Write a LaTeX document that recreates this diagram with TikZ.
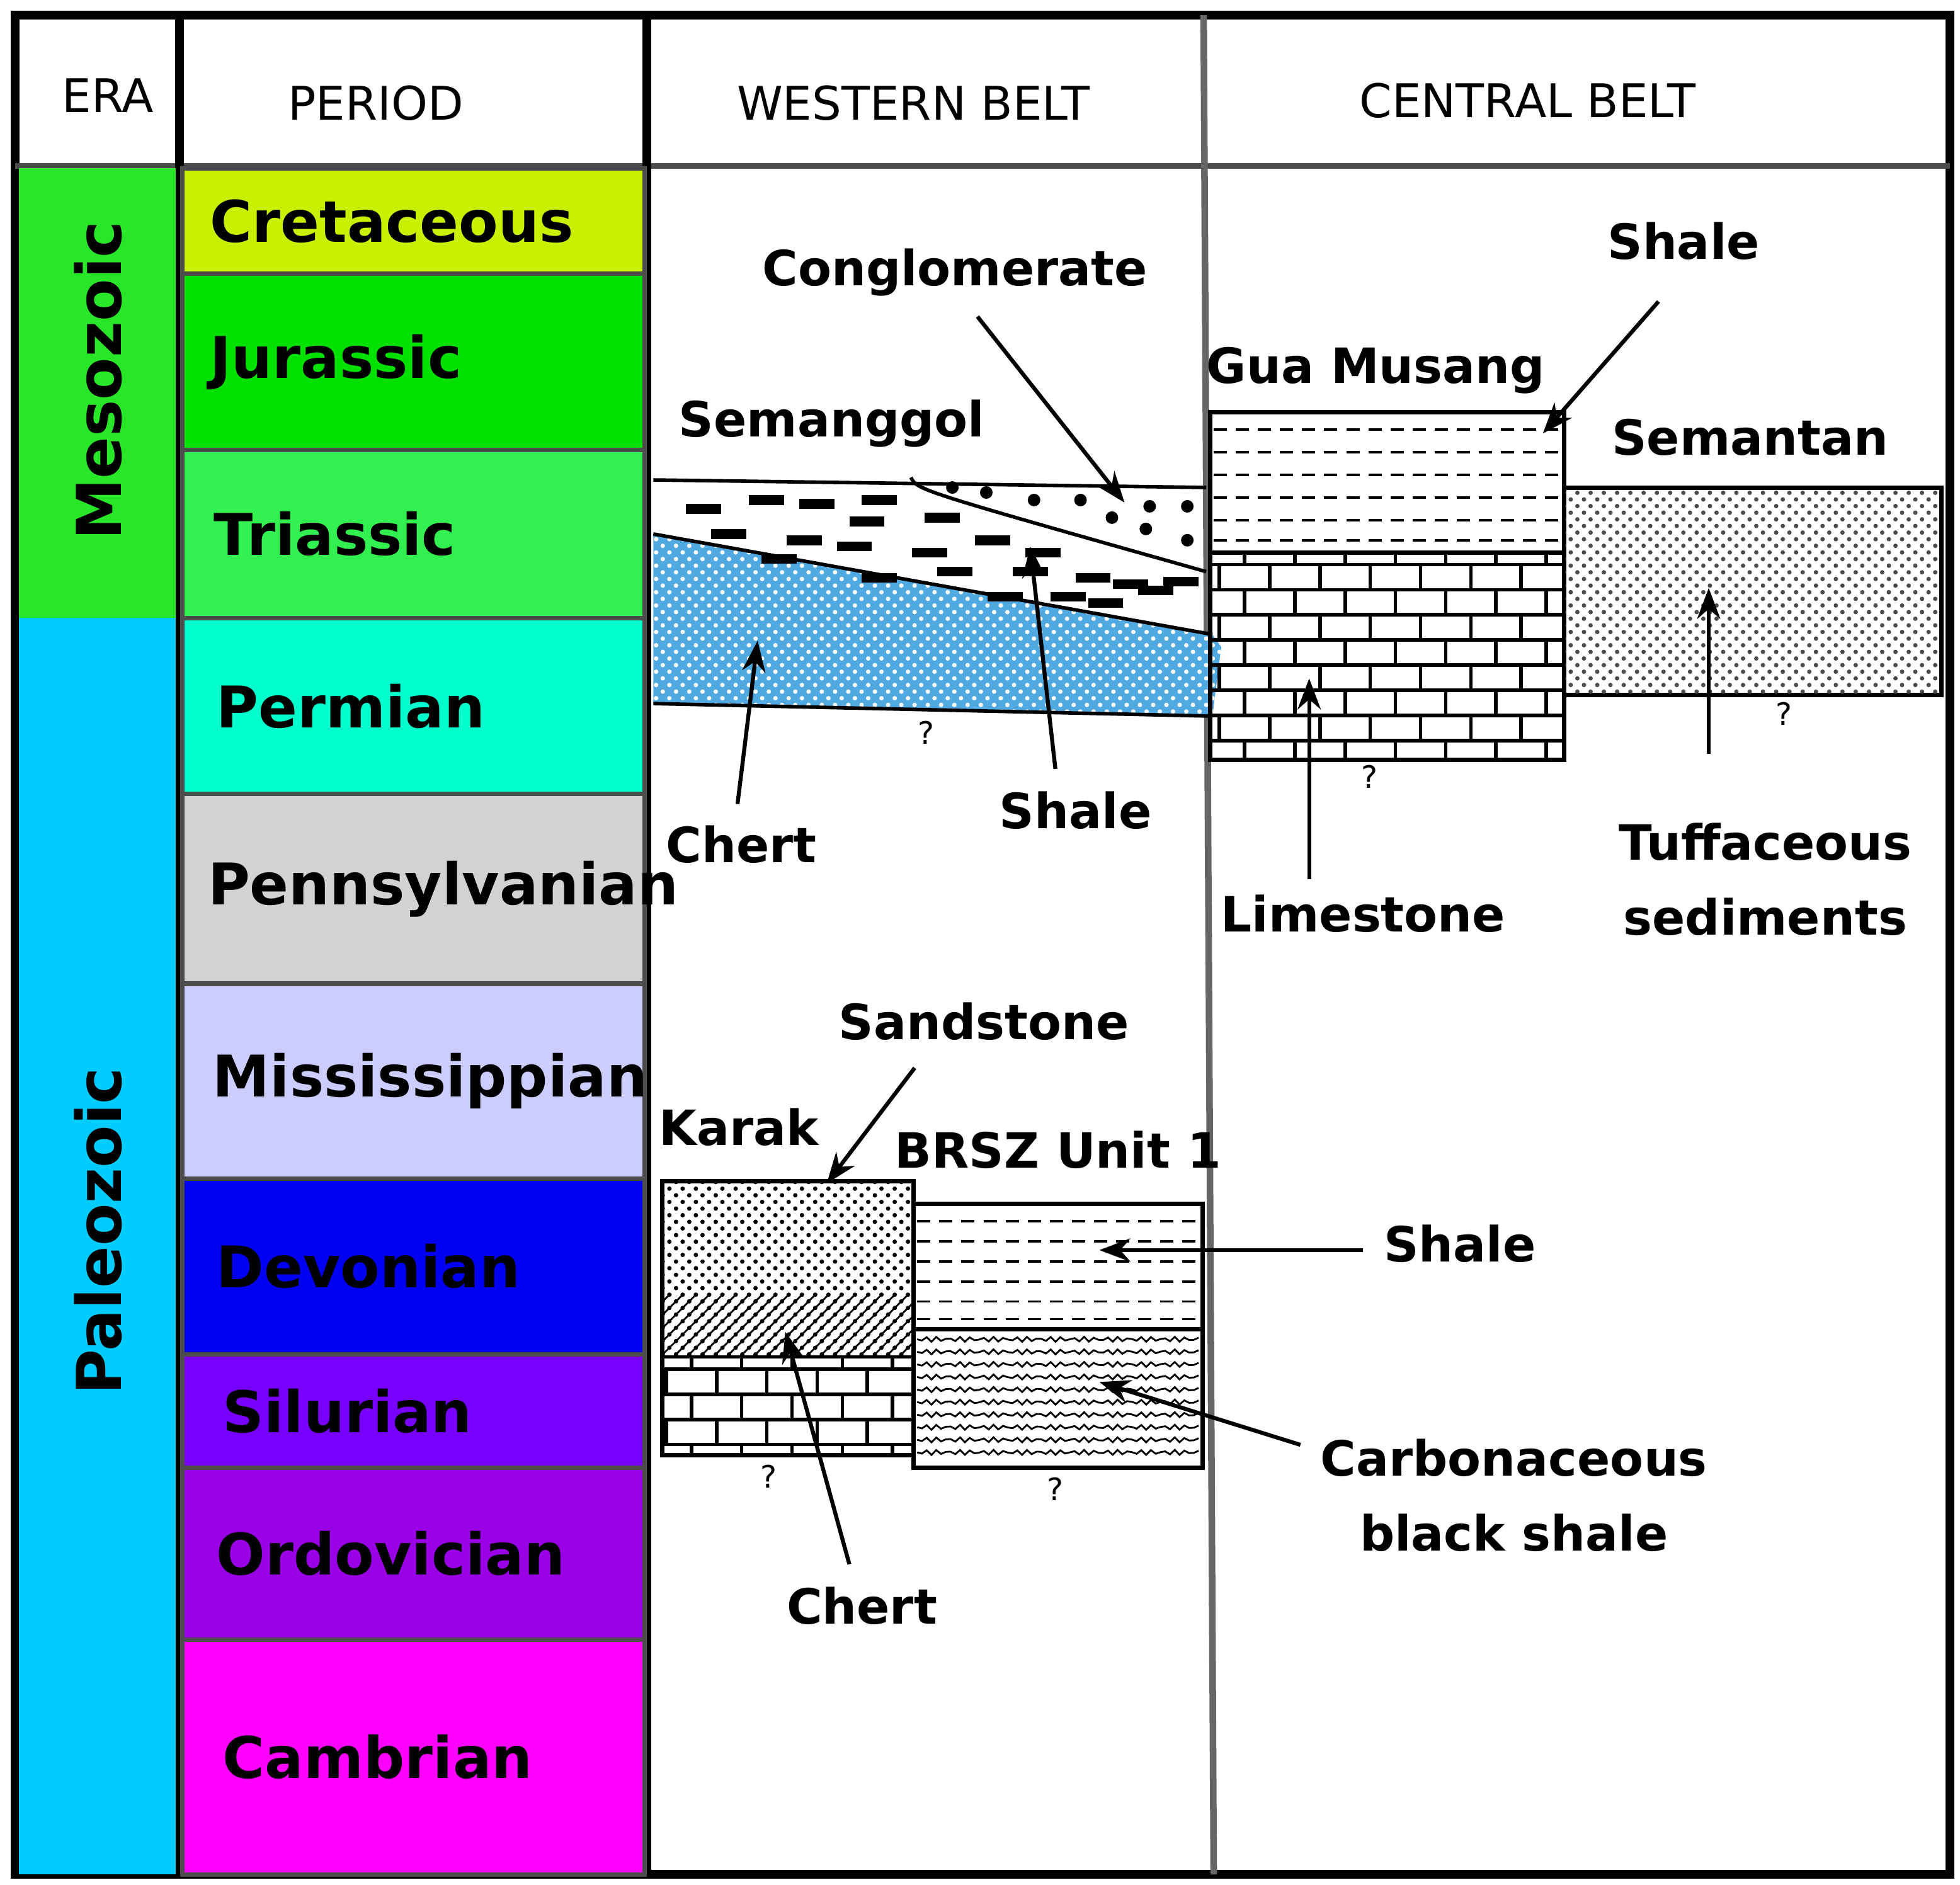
\documentclass[tikz,border=0pt]{standalone}
\usepackage{fontspec}
\setmainfont{DejaVu Sans}
\usetikzlibrary{patterns,arrows.meta}
\begin{document}
\begin{tikzpicture}[x=0.01cm,y=-0.01cm,
  cell/.style={draw=black!70,line width=1.2pt},
  per/.style={anchor=west,font=\bfseries\fontsize{13}{15}\selectfont},
  lab/.style={font=\bfseries\fontsize{11}{13}\selectfont},
  hdr/.style={font=\fontsize{10.5}{12}\selectfont},
  arr/.style={-{Stealth[length=7pt]},line width=0.9pt},
  q/.style={font=\fontsize{7}{8}\selectfont}]
\useasboundingbox (0,0) rectangle (1560,1500);
% header
\draw[line width=2pt] (12,12) rectangle (1552,1492);
\draw[cell] (12,132) -- (1552,132);
\foreach \x in {143,515} \draw[line width=2pt] (\x,12)--(\x,1492);
\draw[line width=1.5pt,black!60] (958,12)--(966,1492);
\node[hdr] (hera) at (86,76) {ERA};
\node[hdr] (hper) at (299,82) {PERIOD};
\node[hdr] (hwb) at (727,82) {WESTERN BELT};
\node[hdr] (hcb) at (1216,80) {CENTRAL BELT};
% eras
\fill[fill={rgb,255:red,40;green,230;blue,40}] (15,134) rectangle (140,492);
\fill[fill={rgb,255:red,0;green,204;blue,255}] (15,492) rectangle (140,1492);
\node[rotate=90,font=\bfseries\fontsize{14}{16}\selectfont] (meso) at (78,303) {Mesozoic};
\node[rotate=90,font=\bfseries\fontsize{14}{16}\selectfont] (paleo) at (78,980) {Paleozoic};
% periods
\def\per#1#2#3#4#5{\fill[fill={rgb,255:#3},draw=black!70,line width=1pt] (145,#1) rectangle (513,#2); \node[per] at (#4,{(#1+#2)/2}) {#5};}
\per{134}{218}{red,200;green,240;blue,0}{155}{Cretaceous}
\per{218}{358}{red,0;green,225;blue,0}{155}{Jurassic}
\per{358}{492}{red,50;green,240;blue,80}{158}{Triassic}
\per{492}{632}{red,0;green,255;blue,204}{160}{Permian}
\per{632}{783}{red,210;green,210;blue,210}{153}{Pennsylvanian}
\per{783}{938}{red,204;green,204;blue,255}{157}{Mississippian}
\per{938}{1078}{red,0;green,0;blue,245}{160}{Devonian}
\per{1078}{1168}{red,120;green,0;blue,255}{165}{Silurian}
\per{1168}{1305}{red,153;green,0;blue,230}{160}{Ordovician}
\per{1305}{1492}{red,255;green,0;blue,255}{165}{Cambrian}
% Semanggol
\fill[fill={rgb,255:red,80;green,170;blue,225}] (520,425) -- (965,505) -- (972,515) -- (965,570) -- (520,560) -- cycle;
\fill[pattern=crosshatch dots,pattern color=white] (520,425) -- (965,505) -- (972,515) -- (965,570) -- (520,560) -- cycle;
\draw[line width=0.8pt] (520,382) -- (960,388);
\draw[line width=0.8pt] (520,425) -- (965,505);
\draw[line width=0.8pt] (520,560) -- (965,570);
\draw[line width=0.8pt] (725,380) .. controls (730,390) .. (960,455);
\foreach \x/\y in {560/405,610/398,650/401,700/398,580/425,640/430,690/415,750/412,620/445,680/435,740/440,790/430,830/440,700/460,760/455,820/455,870/460,800/475,850/475,900/465,920/470,880/480,940/463}
  \draw[line width=2.2pt] (\x-14,\y) -- (\x+14,\y);
\foreach \x/\y in {758/388,785/392,823/398,860/398,915/403,945/403,885/412,912/421,945/430}
  \fill (\x,\y) circle (5);
\node[lab] (cong) at (760,217) {Conglomerate};
\node[lab] (sem) at (662,337) {Semanggol};
\node[lab] (chw) at (590,672) {Chert};
\node[lab] (shw) at (856,645) {Shale};
\node[q] at (737,583) {?};
\draw[arr] (778,252) -- (895,400);
\draw[arr] (840,612) -- (820,435);
\draw[arr] (587,640) -- (603,510);
% Central belt
\draw[line width=1pt] (963,328) rectangle (1245,605);
\draw[line width=1pt] (963,440) -- (1245,440);
\foreach \y in {342,360,378,396,414,430} \draw[densely dashed,line width=0.5pt] (966,\y) -- (1242,\y);
\fill[pattern=bricks] (964,441) rectangle (1244,604);
\draw[line width=1pt] (1245,388) rectangle (1545,553);
\fill[pattern=crosshatch dots,pattern color=black!70] (1246,389) rectangle (1544,552);
\node[lab] (gm) at (1095,295) {Gua Musang};
\node[lab] (shc) at (1340,192) {Shale};
\node[lab] (semt) at (1393,348) {Semantan};
\node[lab] (lime) at (1085,727) {Limestone};
\node[lab,align=center] (tuff) at (1405,700) {Tuffaceous\\[4pt]sediments};
\node[q] at (1090,618) {?};
\node[q] at (1420,568) {?};
\draw[arr] (1320,240) -- (1228,345);
\draw[arr] (1042,700) -- (1042,540);
\draw[arr] (1360,600) -- (1360,468);
% Karak
\draw[line width=1pt] (527,940) rectangle (727,1158);
\fill[pattern=crosshatch dots] (528,941) rectangle (726,1030);
\fill[pattern=crosshatch dots] (528,1030) rectangle (726,1080);
\fill[pattern=north east lines] (528,1030) rectangle (726,1080);
\fill[pattern=bricks] (528,1080) rectangle (726,1157);
\draw[line width=0.6pt] (527,1080) -- (727,1080);
\draw[line width=1pt] (727,958) rectangle (957,1168);
\draw[line width=1pt] (727,1058) -- (957,1058);
\foreach \y in {972,988,1004,1020,1036,1050} \draw[densely dashed,line width=0.5pt] (730,\y) -- (954,\y);
\foreach \y in {1066,1076,...,1160} \draw[line width=0.4pt] plot[domain=0:224,samples=60] ({\x+730},{\y+2*sin(\x*40)});
\node[lab] (kar) at (588,897) {Karak};
\node[lab] (brsz) at (842,915) {BRSZ Unit 1};
\node[lab] (sand) at (783,813) {Sandstone};
\node[lab] (shb) at (1162,990) {Shale};
\node[lab,align=center] (carb) at (1205,1190) {Carbonaceous\\[4pt]black shale};
\node[lab] (chb) at (686,1278) {Chert};
\node[q] at (612,1175) {?};
\node[q] at (840,1185) {?};
\draw[arr] (728,850) -- (658,942);
\draw[arr] (1085,995) -- (875,995);
\draw[arr] (1035,1150) -- (875,1100);
\draw[arr] (676,1245) -- (625,1060);
\end{tikzpicture}
\end{document}
